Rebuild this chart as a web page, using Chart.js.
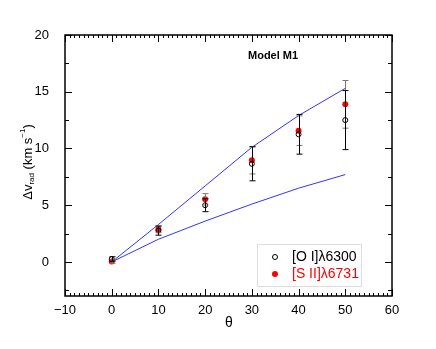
<!DOCTYPE html>
<html>
<head>
<meta charset="utf-8">
<script src="https://cdn.jsdelivr.net/npm/chart.js@4"></script>
<style>
  html, body { margin: 0; padding: 0; background: #fff; }
  #wrap { width: 436px; height: 349px; }
</style>
</head>
<body>
<div id="wrap"><canvas id="chart"></canvas></div>
<script>
// data
const theta = [0, 10, 20, 30, 40, 50];
const oiVals = [0.26, 2.76, 5.0, 8.65, 11.25, 12.5];
const oiErr  = [0.2, 0.4, 0.57, 1.5, 1.75, 2.6];
const siiVals = [0.03, 2.88, 5.52, 8.96, 11.57, 13.89];
const siiErr  = [0.15, 0.3, 0.5, 1.2, 1.3, 2.1];
const modelHigh = [0, 3.3, 6.7, 10.1, 12.9, 15.3];
const modelLow  = [0, 2.0, 3.6, 5.1, 6.5, 7.7];
const xTicks = [-10, 0, 10, 20, 30, 40, 50, 60];
const yTicks = [0, 5, 10, 15, 20];

const FONT = "'Liberation Sans', Arial, Helvetica, sans-serif";

const pts = vals => theta.map((t, i) => ({ x: t, y: vals[i] }));

// error bars, inward ticks, frame, labels, legend
const decor = {
  id: "decor",
  afterDatasetsDraw(chart) {
    const { ctx, chartArea: a, scales: { x, y } } = chart;
    ctx.save();

    // error bars
    const bars = [[siiVals, siiErr, "#777"], [oiVals, oiErr, "#000"]];
    bars.forEach(([vals, errs, col]) => {
      ctx.strokeStyle = col;
      ctx.lineWidth = 1;
      theta.forEach((t, i) => {
        const px = Math.round(x.getPixelForValue(t)) + 0.5;
        const y1 = y.getPixelForValue(vals[i] + errs[i]);
        const y2 = y.getPixelForValue(vals[i] - errs[i]);
        ctx.beginPath();
        ctx.moveTo(px, y1); ctx.lineTo(px, y2);
        ctx.moveTo(px - 3, y1); ctx.lineTo(px + 3, y1);
        ctx.moveTo(px - 3, y2); ctx.lineTo(px + 3, y2);
        ctx.stroke();
      });
    });

    // frame
    ctx.strokeStyle = "#000";
    ctx.lineWidth = 1.5;
    ctx.strokeRect(a.left, a.top, a.right - a.left, a.bottom - a.top);

    // x ticks (major 10, minor 1)
    ctx.lineWidth = 1;
    ctx.beginPath();
    for (let v = -10; v <= 60; v++) {
      const px = Math.round(x.getPixelForValue(v)) + 0.5;
      const len = v % 10 === 0 ? 7 : 3;
      ctx.moveTo(px, a.bottom); ctx.lineTo(px, a.bottom - len);
      ctx.moveTo(px, a.top); ctx.lineTo(px, a.top + len);
    }
    // y ticks (major 5, minor 2.5)
    for (let v = -2.5; v <= 20; v += 2.5) {
      const py = Math.round(y.getPixelForValue(v)) + 0.5;
      const len = v % 5 === 0 ? 7 : 4;
      ctx.moveTo(a.left, py); ctx.lineTo(a.left + len, py);
      ctx.moveTo(a.right, py); ctx.lineTo(a.right - len, py);
    }
    ctx.stroke();

    // panel title
    ctx.fillStyle = "#000";
    ctx.font = "bold 11px " + FONT;
    ctx.textAlign = "left";
    ctx.textBaseline = "middle";
    ctx.fillText("Model M1", 248, 56);

    // x axis label
    ctx.font = "14px " + FONT;
    ctx.textAlign = "center";
    ctx.fillText("θ", 229, 323);

    // y axis label with sub/superscripts
    ctx.translate(28, 162);
    ctx.rotate(-Math.PI / 2);
    ctx.textAlign = "left";
    ctx.textBaseline = "middle";
    const parts = [["Δv", 13, 0], ["rad", 8, 4], [" (km s", 13, 0], ["−1", 8, -5], [")", 13, 0]];
    let total = 0;
    parts.forEach(([t, s]) => { ctx.font = s + "px " + FONT; total += ctx.measureText(t).width; });
    let cx = -total / 2;
    parts.forEach(([t, s, dy]) => {
      ctx.font = s + "px " + FONT;
      ctx.fillText(t, cx, dy);
      cx += ctx.measureText(t).width;
    });
    ctx.setTransform(1, 0, 0, 1, 0, 0);

    // legend box
    ctx.strokeStyle = "#ddd";
    ctx.lineWidth = 1;
    ctx.strokeRect(257.5, 244.5, 104, 42);
    ctx.font = "14px " + FONT;
    ctx.textAlign = "left";
    const ds = chart.data.datasets;
    [[ds[0], 257], [ds[1], 274]].forEach(([d, ly]) => {
      ctx.beginPath();
      ctx.arc(275, ly, d.pointRadius, 0, Math.PI * 2);
      if (d.pointBackgroundColor !== "transparent") {
        ctx.fillStyle = d.pointBackgroundColor; ctx.fill();
      } else {
        ctx.strokeStyle = d.pointBorderColor; ctx.stroke();
      }
      ctx.fillStyle = d.legendColor;
      ctx.fillText(d.label, 292, ly);
    });
    ctx.restore();
  }
};

new Chart(document.getElementById("chart"), {
  type: "scatter",
  data: {
    datasets: [
      { label: "[O I]λ6300", data: pts(oiVals), pointRadius: 2.5, pointBorderWidth: 1,
        pointBackgroundColor: "transparent", pointBorderColor: "#000", legendColor: "#000", order: 1 },
      { label: "[S II]λ6731", data: pts(siiVals), pointRadius: 3, pointBorderWidth: 0,
        pointBackgroundColor: "#f00", pointBorderColor: "#f00", legendColor: "#f00", order: 2 },
      { type: "line", label: "model a", data: pts(modelHigh), borderColor: "#3333ff", borderWidth: 1,
        pointRadius: 0, fill: false, order: 3 },
      { type: "line", label: "model b", data: pts(modelLow), borderColor: "#3333ff", borderWidth: 1,
        pointRadius: 0, fill: false, order: 3 }
    ]
  },
  options: {
    responsive: true,
    maintainAspectRatio: false,
    animation: false,
    layout: { padding: { left: 0, right: 44, top: 35, bottom: 0 } },
    plugins: { legend: { display: false }, tooltip: { enabled: false } },
    scales: {
      x: {
        type: "linear", min: -10, max: 60,
        afterBuildTicks: s => { s.ticks = xTicks.map(v => ({ value: v })); },
        afterFit: s => { s.height = 53; },
        grid: { display: false }, border: { display: false },
        ticks: { padding: -1, color: "#000", font: { family: FONT, size: 13 },
          callback: v => String(v).replace("-", "−") }
      },
      y: {
        type: "linear", min: -3, max: 20,
        afterBuildTicks: s => { s.ticks = yTicks.map(v => ({ value: v })); },
        afterFit: s => { s.width = 65; },
        grid: { display: false }, border: { display: false },
        ticks: { padding: 8, color: "#000", font: { family: FONT, size: 13 } }
      }
    }
  },
  plugins: [decor]
});
</script>
</body>
</html>
